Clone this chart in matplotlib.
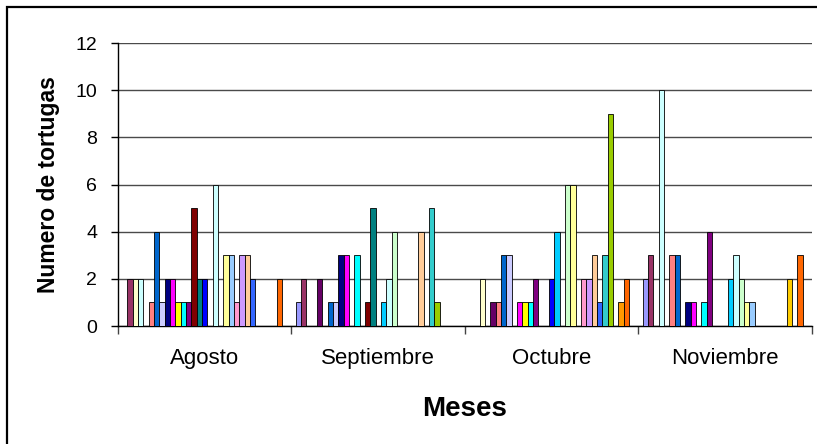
import matplotlib
matplotlib.use("Agg")
import matplotlib.pyplot as plt
from matplotlib.patches import Rectangle

plt.rcParams['font.family'] = ['Liberation Sans', 'DejaVu Sans']

meses = ["Agosto", "Septiembre", "Octubre", "Noviembre"]

# one value per series (31 series) for each month
agosto     = [0, 2, 2, 2, 0, 1, 4, 1, 2, 2, 1, 1, 1, 5, 2, 2, 0, 6, 0, 3, 3, 1, 3, 3, 2, 0, 0, 0, 0, 2, 0]
septiembre = [1, 2, 0, 0, 2, 0, 1, 1, 3, 3, 0, 3, 0, 1, 5, 0, 1, 2, 4, 0, 0, 0, 0, 4, 0, 5, 1, 0, 0, 0, 0]
octubre    = [0, 0, 2, 0, 1, 1, 3, 3, 0, 1, 1, 1, 2, 0, 0, 2, 4, 0, 6, 6, 0, 2, 2, 3, 1, 3, 9, 0, 1, 2, 0]
noviembre  = [2, 3, 0, 10, 0, 3, 3, 0, 1, 1, 0, 1, 4, 0, 0, 0, 2, 3, 2, 1, 1, 0, 0, 0, 0, 0, 0, 2, 0, 3, 0]

colores = ["#9999FF", "#993366", "#FFFFCC", "#CCFFFF", "#660066", "#FF8080", "#0066CC", "#CCCCFF",
           "#000080", "#FF00FF", "#FFFF00", "#00FFFF", "#800080", "#800000", "#008080", "#0000FF",
           "#00CCFF", "#CCFFFF", "#CCFFCC", "#FFFF99", "#99CCFF", "#FF99CC", "#CC99FF", "#FFCC99",
           "#3366FF", "#33CCCC", "#99CC00", "#FFCC00", "#FF9900", "#FF6600", "#666699"]

W, H = 817, 444
fig = plt.figure(figsize=(W / 100, H / 100), dpi=100)
ax = fig.add_axes([118 / W, 1 - 326 / H, (812 - 118) / W, (326 - 43) / H])

# chart frame, runs off the right and bottom edges
fig.patches.append(Rectangle((7 / W, -20 / H), (850 - 7) / W, (437 + 20) / H, transform=fig.transFigure,
                             fill=False, edgecolor='black', linewidth=1.6))

series = list(zip(agosto, septiembre, octubre, noviembre))
n = len(series)
w = 1 / (n + 1.5)
for i, vals in enumerate(series):
    xs = [g + 0.75 * w + i * w for g in range(len(meses))]
    ax.bar(xs, vals, width=w, align='edge', color=colores[i], edgecolor='black', linewidth=0.6, zorder=3)

ax.set_xlim(0, len(meses))
ax.set_ylim(0, 12)
ax.set_yticks(range(0, 13, 2))
ax.yaxis.grid(True, color='#4a4a4a', linewidth=1, zorder=0)

ax.set_xticks(range(len(meses) + 1))
ax.set_xticklabels([])
ax.set_xticks([g + 0.5 for g in range(len(meses))], minor=True)
ax.set_xticklabels(meses, minor=True)
ax.tick_params(axis='x', which='major', direction='out', length=6, width=1, color='#444444')
ax.tick_params(axis='x', which='minor', length=0, pad=16, labelsize=16)
ax.tick_params(axis='y', direction='out', length=5, width=1, pad=10, labelsize=14)

for s in ['top', 'right']:
    ax.spines[s].set_visible(False)
ax.spines['left'].set_linewidth(1)
ax.spines['bottom'].set_linewidth(1)

ax.set_xlabel("Meses", fontsize=20, fontweight='bold', labelpad=19)
ax.set_ylabel("Numero de tortugas", fontsize=16.5, fontweight='bold', labelpad=11)

fig.savefig("out.png", dpi=100)
